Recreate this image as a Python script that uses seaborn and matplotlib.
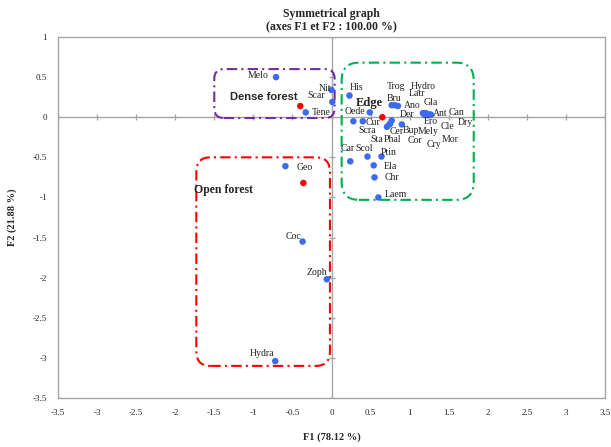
import numpy as np
import pandas as pd
import matplotlib
matplotlib.use('Agg')
import matplotlib.pyplot as plt
from matplotlib.patches import FancyBboxPatch
import seaborn as sns

# species coordinates (F1, F2)
species = ['Melo', 'Nit', 'Scar', 'Tene', 'His', 'Oede', 'Trog', 'Bru', 'Ano', 'Der',
           'Cur', 'Scra', 'Cer', 'Sta', 'Phal', 'Bup', 'Hydro', 'Latr', 'Gla', 'Ant',
           'Can', 'Dry', 'Ero', 'Cle', 'Mely', 'Mor', 'Cor', 'Cry', 'Car', 'Scol',
           'Ptin', 'Ela', 'Chr', 'Laem', 'Geo', 'Coc', 'Zoph', 'Hydra']
f1 = [-0.71, 0.00, 0.01, -0.33, 0.23, 0.49, 0.77, 0.81, 0.85, 0.77,
      0.40, 0.28, 0.71, 0.74, 0.75, 0.90, 1.17, 1.18, 1.21, 1.25,
      1.27, 1.27, 1.19, 1.24, 1.22, 1.26, 1.20, 1.23, 0.24, 0.46,
      0.64, 0.54, 0.55, 0.60, -0.59, -0.37, -0.06, -0.72]
f2 = [0.50, 0.34, 0.19, 0.06, 0.27, 0.06, 0.15, 0.15, 0.14, -0.04,
      -0.05, -0.05, -0.12, -0.09, -0.08, -0.09, 0.05, 0.05, 0.05, 0.03,
      0.03, 0.03, 0.03, 0.03, 0.03, 0.03, 0.04, 0.03, -0.55, -0.49,
      -0.49, -0.60, -0.75, -1.00, -0.61, -1.55, -2.02, -3.04]

# habitat coordinates
habitats = ['Dense forest', 'Edge', 'Open forest']
h_f1 = [-0.40, 0.65, -0.36]
h_f2 = [0.14, 0.00, -0.82]

ticks = np.arange(-3.5, 3.51, 0.5)
yticks = np.arange(-3.5, 1.01, 0.5)

# label offsets in pixels
offsets = {'Melo': (-18, 2), 'Nit': (-7, 1), 'Scar': (-16, 6), 'Tene': (16, 0),
           'His': (7, 8), 'Oede': (-15, 1), 'Trog': (4, 19), 'Bru': (-1, 7),
           'Ano': (14, 0), 'Der': (15, 6), 'Cur': (10, -1), 'Scra': (14, -9),
           'Cer': (10, -5), 'Sta': (-13, -15), 'Phal': (2, -16), 'Bup': (9, -6),
           'Hydro': (0, 27), 'Latr': (-7, 20), 'Gla': (5, 11), 'Ant': (11, 1),
           'Can': (26, 2), 'Dry': (35, -8), 'Ero': (6, -7), 'Cle': (19, -12),
           'Mely': (1, -17), 'Mor': (20, -25), 'Cor': (-10, -26), 'Cry': (6, -30),
           'Car': (-3, 13), 'Scol': (-3, 8), 'Ptin': (7, 4), 'Ela': (17, -1),
           'Chr': (17, 0), 'Laem': (17, 3), 'Geo': (19, -1), 'Coc': (-9, 5),
           'Zoph': (-10, 7), 'Hydra': (-13, 8)}

sns.set_style('white')
plt.rcParams['font.family'] = ['Liberation Serif', 'DejaVu Serif']

fig = plt.figure(figsize=(6.11, 4.47), dpi=100)
ax = fig.add_axes([58 / 611, 1 - 398 / 447, 547 / 611, 361 / 447])

gray = '#A6A6A6'
for s in ax.spines.values():
    s.set_color(gray)
    s.set_linewidth(1)
ax.axhline(0, color=gray, lw=1, zorder=1)
ax.axvline(0, color=gray, lw=1, zorder=1)
ax.plot(ticks, np.zeros_like(ticks), ls='none', marker='|', ms=5, color=gray, mew=1, zorder=1)
ax.plot(np.zeros_like(yticks), yticks, ls='none', marker='_', ms=5, color=gray, mew=1, zorder=1)

# group boxes
boxes = [((-1.50, -0.01), 1.54, 0.61, '#7030A0', 0.12),
         ((0.13, -1.03), 1.69, 1.71, '#00B050', 0.22),
         ((-1.73, -3.10), 1.71, 2.60, '#FF0000', 0.18)]
for (x0, y0), w, h, c, r in boxes:
    ax.add_patch(FancyBboxPatch((x0 + r, y0 + r), w - 2 * r, h - 2 * r,
                                boxstyle=f'round,pad={r}', fill=False,
                                edgecolor=c, lw=1.5, ls=(0, (5, 2, 1, 2)), zorder=2))

df = pd.DataFrame({'F1': f1, 'F2': f2, 'name': species})
sns.scatterplot(data=df, x='F1', y='F2', color='#3B6CF0', s=22, edgecolor='none', ax=ax, zorder=4)
hd = pd.DataFrame({'F1': h_f1, 'F2': h_f2, 'name': habitats})
sns.scatterplot(data=hd, x='F1', y='F2', color='#FF0000', s=22, edgecolor='none', ax=ax, zorder=4)

for n, x, y in zip(species, f1, f2):
    ax.annotate(n, (x, y), xytext=offsets[n], textcoords='offset pixels',
                ha='center', va='center', fontsize=7, color='#222222', zorder=5)

ax.text(-0.86, 0.25, 'Dense forest', fontsize=8, fontweight='bold',
        family=['Liberation Sans', 'DejaVu Sans'], ha='center', va='center')
ax.text(0.49, 0.18, 'Edge', fontsize=9, fontweight='bold', ha='center', va='center')
ax.text(-1.38, -0.91, 'Open forest', fontsize=8.5, fontweight='bold', ha='center', va='center')

ax.set_xlim(-3.5, 3.5)
ax.set_ylim(-3.5, 1)
ax.set_xticks(ticks)
ax.set_yticks(yticks)
ax.set_xticklabels([f'{t:g}' for t in ticks])
ax.set_yticklabels([f'{t:g}' for t in yticks])
ax.tick_params(axis='x', length=0, labelsize=6.5, pad=8)
ax.tick_params(axis='y', length=0, labelsize=6.5, pad=8)
ax.set_xlabel('F1 (78.12 %)', fontsize=7.5, fontweight='bold', labelpad=11)
ax.set_ylabel('F2 (21.88 %)', fontsize=7.5, fontweight='bold', labelpad=11)
ax.set_title('Symmetrical graph\n(axes F1 et F2 : 100.00 %)', fontsize=8.5, fontweight='bold',
             linespacing=1.1, pad=5)

fig.savefig('out.png', dpi=100)
